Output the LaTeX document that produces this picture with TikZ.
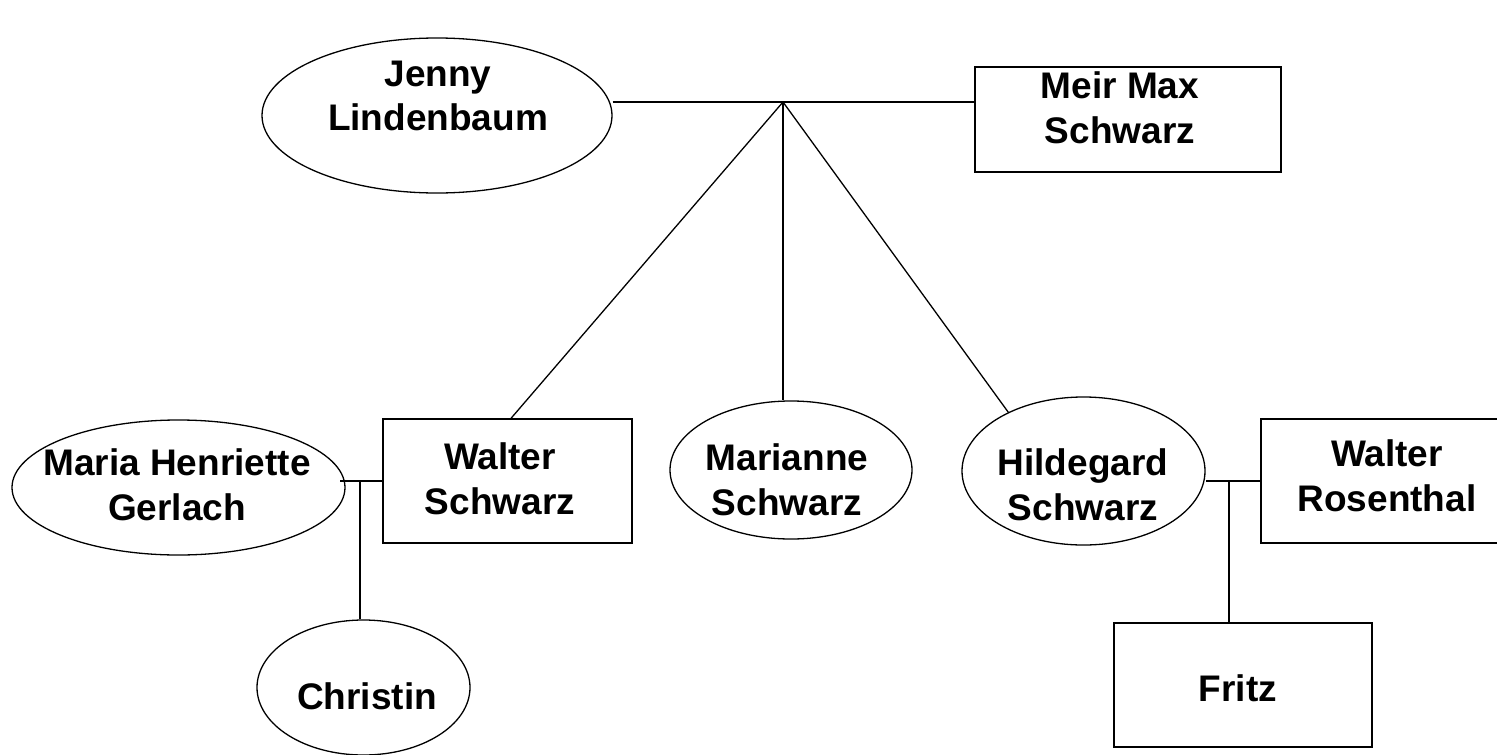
\documentclass[tikz,border=0pt]{standalone}
\usepackage{fontspec}
\setmainfont{Liberation Sans}
\usetikzlibrary{shapes.geometric,calc}
\tikzset{
  oval/.style={draw, ellipse, inner sep=0pt, line width=1.3pt},
  boxnode/.style={draw, rectangle, inner sep=0pt, line width=1.3pt},
  nametext/.style={inner sep=0pt, align=center, font=\bfseries\fontsize{37}{44.5}\selectfont},
  link/.style={line width=1.3pt}
}
\begin{document}
\begin{tikzpicture}[x=1pt,y=-1pt]
\fill[white] (0,0) rectangle (1497,755);
\clip (0,0) rectangle (1497,755);
% shapes
\node[oval, minimum width=350pt, minimum height=155pt] (jenny) at (437,115.5) {};
\node[boxnode, minimum width=306pt, minimum height=105pt] (meir) at (1128,119.5) {};
\node[boxnode, minimum width=249pt, minimum height=124pt] (ws) at (507.5,481) {};
\node[oval, minimum width=333pt, minimum height=135pt] (maria) at (178.5,487.5) {};
\node[oval, minimum width=242pt, minimum height=138pt] (marianne) at (791,470) {};
\node[oval, minimum width=243pt, minimum height=148pt] (hild) at (1083.5,471) {};
\node[boxnode, minimum width=252pt, minimum height=124pt] (wr) at (1387,481) {};
\node[oval, minimum width=213pt, minimum height=135pt] (christin) at (363.5,687.5) {};
\node[boxnode, minimum width=258pt, minimum height=124pt] (fritz) at (1243,685) {};
% names
\node[nametext] (tjenny) at (438,96) {Jenny\\Lindenbaum};
\node[nametext] (tmeir) at (1120,108) {Meir Max\\Schwarz};
\node[nametext] (tws) at (500,479) {Walter\\Schwarz};
\node[nametext] (tmaria) at (177,485) {Maria Henriette\\Gerlach};
\node[nametext] (tmarianne) at (787,480) {Marianne\\Schwarz};
\node[nametext] (thild) at (1083,485) {Hildegard\\Schwarz};
\node[nametext] (twr) at (1387,476) {Walter\\Rosenthal};
\node[nametext] (tchristin) at (367,696) {Christin};
\node[nametext] (tfritz) at (1238,688) {Fritz};
% junctions
\coordinate (top) at (783,102);
\coordinate (mj) at (360,481);
\coordinate (hj) at (1229,481);
% connectors
\draw[link] (jenny.east |- top) -- (meir.west |- top);
\draw[link] (top) -- ($(ws.north)+(3.5,0)$);
\draw[link] (top) -- (top |- marianne.north);
\draw[link] (top) -- (hild.142);
\draw[link] (ws.west) -- (mj) -- ++(-20,0);
\draw[link] (mj) -- (mj |- christin.north);
\draw[link] (wr.west) -- (hj) -- (hild.east |- hj);
\draw[link] (hj) -- (hj |- fritz.north);
\end{tikzpicture}
\end{document}
